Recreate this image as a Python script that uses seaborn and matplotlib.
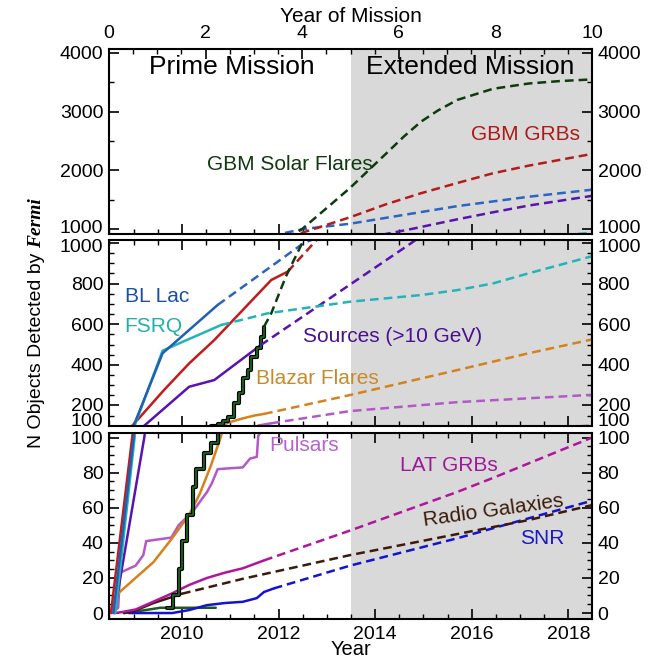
import numpy as np
import pandas as pd
import matplotlib
matplotlib.use("Agg")
import matplotlib.pyplot as plt
import matplotlib.transforms as mtrans
from matplotlib.ticker import MultipleLocator, FixedLocator
import seaborn as sns

# ---------------- data ----------------
mission_start = 2008.49
mission_end = 2018.49
extended_start = 2013.49

year_ticks = [2010, 2012, 2014, 2016, 2018]
mission_ticks = [0, 2, 4, 6, 8, 10]
top_yticks = [1000, 2000, 3000, 4000]
mid_yticks = [100, 200, 400, 600, 800, 1000]
bot_yticks = [0, 20, 40, 60, 80, 100]

# GBM Solar Flares
flare_step_x = [2009.70, 2009.82, 2009.93, 2010.00, 2010.11, 2010.23, 2010.30, 2010.45,
                2010.60, 2010.74, 2010.85, 2010.96, 2011.07, 2011.18, 2011.26, 2011.37,
                2011.44, 2011.55, 2011.63, 2011.70]
flare_step_y = [3, 10, 25, 41, 56, 72, 82, 91, 97, 110, 125, 144, 210, 260, 333, 374,
                440, 481, 538, 588]
flare_proj_x = [2011.70, 2011.85, 2012.15, 2012.49, 2012.73, 2013.10, 2013.48, 2013.85,
                2014.22, 2014.60, 2014.95, 2015.30, 2015.70, 2016.44, 2017.18, 2017.80, 2018.49]
flare_proj_y = [588, 654, 834, 1000, 1170, 1430, 1700, 1990, 2280, 2580, 2830, 3020,
                3200, 3390, 3480, 3520, 3550]

# small dark-green series near zero
lowgreen_x = [2008.80, 2009.20, 2009.55, 2010.70]
lowgreen_y = [0, 1.5, 3, 3]

# GBM GRBs
gbm_grb_x = [2008.53, 2008.97, 2009.04, 2009.63, 2010.15, 2010.67, 2011.26, 2011.85, 2012.19]
gbm_grb_y = [0, 100, 118, 276, 407, 522, 670, 818, 859]
gbm_grb_proj_x = [2012.19, 2012.73, 2013.48, 2014.22, 2014.95, 2015.70, 2016.44, 2017.18, 2018.49]
gbm_grb_proj_y = [859, 1000, 1200, 1420, 1610, 1784, 1950, 2080, 2280]

# BL Lac
bllac_x = [2008.58, 2009.00, 2009.60, 2010.74]
bllac_y = [0, 100, 457, 695]
bllac_proj_x = [2010.74, 2012.52, 2013.48, 2014.22, 2014.96, 2015.70, 2016.44, 2017.18, 2018.49]
bllac_proj_y = [695, 1000, 1090, 1190, 1290, 1390, 1470, 1550, 1670]

# FSRQ
fsrq_x = [2008.62, 2009.02, 2009.60, 2010.81]
fsrq_y = [0, 100, 470, 596]
fsrq_proj_x = [2010.81, 2011.78, 2012.74, 2013.48, 2014.96, 2015.70, 2016.44, 2017.18, 2018.49]
fsrq_proj_y = [596, 654, 686, 711, 744, 768, 801, 851, 935]

# Sources (>10 GeV)
src_x = [2008.60, 2009.22, 2010.15, 2010.67, 2011.63]
src_y = [0, 100, 292, 325, 497]
src_proj_x = [2011.63, 2014.75, 2015.70, 2016.44, 2017.18, 2018.49]
src_proj_y = [497, 1000, 1165, 1285, 1400, 1565]

# Blazar Flares
blazar_x = [2008.55, 2008.63, 2009.04, 2009.41, 2009.78, 2010.15, 2010.37, 2010.60,
            2010.80, 2011.00, 2011.26, 2011.50, 2011.70]
blazar_y = [0, 10, 20, 29, 42, 56, 68, 84, 100, 118, 136, 150, 158]
blazar_proj_x = [2011.70, 2013.48, 2015.70, 2017.18, 2018.49]
blazar_proj_y = [158, 251, 374, 457, 525]

# Pulsars
psr_x = [2008.55, 2008.68, 2008.72, 2009.04, 2009.20, 2009.26, 2009.78, 2009.93, 2010.23,
         2010.52, 2010.62, 2010.74, 2011.26, 2011.41, 2011.55, 2011.58, 2011.85]
psr_y = [0, 3, 23, 27, 33, 41, 43, 50, 58, 69, 74, 82, 83, 88, 89, 101, 112]
psr_proj_x = [2011.85, 2013.48, 2015.70, 2018.49]
psr_proj_y = [112, 172, 216, 252]

# LAT GRBs
latgrb_x = [2008.60, 2008.75, 2009.04, 2009.41, 2009.78, 2010.15, 2010.52, 2010.89, 2011.26, 2011.70]
latgrb_y = [0, 0.5, 2, 6.5, 11, 16, 20, 23, 25.5, 30]
latgrb_proj_x = [2011.70, 2013.48, 2015.70, 2016.44, 2018.49]
latgrb_proj_y = [30, 47, 69, 77, 100]

# Radio Galaxies
radio_x = [2008.80, 2009.00, 2009.41, 2009.78, 2010.00]
radio_y = [0, 1, 5.7, 9, 11]
radio_proj_x = [2010.00, 2011.26, 2013.48, 2015.70, 2017.18, 2018.49]
radio_proj_y = [11, 19.5, 33, 45, 53, 61.5]

# SNR
snr_x = [2008.90, 2009.80, 2010.15, 2010.52, 2010.89, 2011.26, 2011.55, 2011.70, 2011.90]
snr_y = [0, 0, 1.7, 4.5, 5.7, 6.4, 8.5, 12, 14]
snr_proj_x = [2011.90, 2013.48, 2015.70, 2017.18, 2018.49]
snr_proj_y = [14, 27, 42.6, 54, 64]

# ---------------- style ----------------
sns.set_theme(style="ticks", rc={
    "text.color": "black", "axes.labelcolor": "black", "axes.edgecolor": "black",
    "xtick.color": "black", "ytick.color": "black",
})
plt.rcParams["font.family"] = ["Liberation Sans", "DejaVu Sans"]

C_FLARE = "#0e3a0e"
C_GRB = "#c41a1a"
C_BLL = "#1f5fb4"
C_FSRQ = "#22b4b8"
C_SRC = "#5a12b0"
C_BLZ = "#d4821c"
C_PSR = "#b458c8"
C_LGRB = "#b0169c"
C_RAD = "#3c1a0c"
C_SNR = "#1414d0"

LW = 1.8
DASH = (0, (3.5, 2.0))

fig = plt.figure(figsize=(6.62, 6.63), dpi=100)
L, W = 109 / 662, 483 / 662
ax_top = fig.add_axes([L, 1 - 234 / 663, W, 185 / 663])
ax_mid = fig.add_axes([L, 1 - 426 / 663, W, 186 / 663])
ax_bot = fig.add_axes([L, 1 - 619 / 663, W, 186 / 663])
axes = [ax_top, ax_mid, ax_bot]


def draw(ax, x, y, color, ls="-", lw=LW, **kw):
    df = pd.DataFrame({"x": x, "y": y})
    sns.lineplot(data=df, x="x", y="y", ax=ax, color=color, linewidth=lw,
                 linestyle=ls, estimator=None, sort=False, legend=False, **kw)


for ax in axes:
    ax.axvspan(extended_start, mission_end, color="#d9d9d9", lw=0, zorder=0)
    # measured (solid)
    draw(ax, lowgreen_x, lowgreen_y, "#1d5a1d")
    draw(ax, snr_x, snr_y, C_SNR)
    draw(ax, radio_x, radio_y, C_RAD)
    draw(ax, latgrb_x, latgrb_y, C_LGRB)
    draw(ax, psr_x, psr_y, C_PSR)
    draw(ax, blazar_x, blazar_y, C_BLZ)
    draw(ax, src_x, src_y, C_SRC)
    draw(ax, gbm_grb_x, gbm_grb_y, C_GRB)
    draw(ax, fsrq_x, fsrq_y, C_FSRQ)
    draw(ax, bllac_x, bllac_y, C_BLL)
    draw(ax, flare_step_x, flare_step_y, "black", lw=3.0, drawstyle="steps-post")
    draw(ax, flare_step_x, flare_step_y, "#1d6a1d", lw=1.2, drawstyle="steps-post")
    # projections (dashed)
    draw(ax, snr_proj_x, snr_proj_y, C_SNR, ls=DASH)
    draw(ax, radio_proj_x, radio_proj_y, C_RAD, ls=DASH)
    draw(ax, latgrb_proj_x, latgrb_proj_y, C_LGRB, ls=DASH)
    draw(ax, psr_proj_x, psr_proj_y, C_PSR, ls=DASH)
    draw(ax, blazar_proj_x, blazar_proj_y, C_BLZ, ls=DASH)
    draw(ax, src_proj_x, src_proj_y, C_SRC, ls=DASH)
    draw(ax, fsrq_proj_x, fsrq_proj_y, C_FSRQ, ls=DASH)
    draw(ax, bllac_proj_x, bllac_proj_y, "#2a64c4", ls=DASH)
    draw(ax, gbm_grb_proj_x, gbm_grb_proj_y, "#b41c1c", ls=DASH)
    draw(ax, flare_proj_x, flare_proj_y, C_FLARE, ls=DASH)

    ax.set_xlim(mission_start, mission_end)
    ax.set_xlabel("")
    ax.set_ylabel("")
    ax.xaxis.set_major_locator(FixedLocator(year_ticks))
    ax.xaxis.set_minor_locator(MultipleLocator(0.5))
    ax.tick_params(which="both", direction="in", top=True, bottom=True, left=True, right=True,
                   labelleft=True, labelright=True, labelbottom=False, labeltop=False,
                   labelsize=14, pad=4)
    ax.tick_params(which="major", length=7, width=1.2)
    ax.tick_params(which="minor", length=3.5, width=1.0)
    for s in ax.spines.values():
        s.set_visible(True)
        s.set_linewidth(1.5)
        s.set_color("black")

ax_top.set_ylim(915, 4068)
ax_top.yaxis.set_major_locator(FixedLocator(top_yticks))
ax_top.yaxis.set_minor_locator(MultipleLocator(500))
ax_mid.set_ylim(98.5, 1015)
ax_mid.yaxis.set_major_locator(FixedLocator(mid_yticks))
ax_mid.yaxis.set_minor_locator(MultipleLocator(50))
ax_bot.set_ylim(-3.4, 102.6)
ax_bot.yaxis.set_major_locator(FixedLocator(bot_yticks))
ax_bot.yaxis.set_minor_locator(MultipleLocator(5))

ax_bot.tick_params(axis="x", labelbottom=True, pad=5)
ax_bot.set_xticks(year_ticks)
ax_bot.set_xticklabels([str(t) for t in year_ticks])
ax_bot.set_xlabel("Year", fontsize=14.5, labelpad=-2)

# top axis: year of mission
ax_m = ax_top.twiny()
ax_m.set_xlim(0, 10)
ax_m.set_xticks(mission_ticks)
ax_m.set_xticklabels([str(t) for t in mission_ticks])
ax_m.xaxis.set_minor_locator(MultipleLocator(0.5))
ax_m.tick_params(axis="x", which="both", direction="in", top=True, bottom=False,
                 labeltop=True, labelbottom=False, labelsize=14, pad=5)
ax_m.tick_params(axis="x", which="major", length=7, width=1.2)
ax_m.tick_params(axis="x", which="minor", length=3.5, width=1.0)
ax_m.set_xlabel("Year of Mission", fontsize=15, labelpad=2)
ax_top.tick_params(axis="x", which="both", top=False, bottom=True)

# nudge crowded tick labels at the panel joins
fig.canvas.draw()


def nudge(ax, val, dy_px):
    off = mtrans.ScaledTranslation(0, dy_px / 100.0, fig.dpi_scale_trans)
    for t in ax.yaxis.get_major_ticks():
        if abs(t.get_loc() - val) < 1e-6:
            for lab in (t.label1, t.label2):
                lab.set_transform(lab.get_transform() + off)


nudge(ax_top, 1000, 3)
nudge(ax_mid, 1000, -2)
nudge(ax_mid, 100, 6)
nudge(ax_mid, 200, 1)

# panel texts
ax_top.text(2011.04, 3762, "Prime Mission", fontsize=19, ha="center", va="center")
ax_top.text(2015.96, 3762, "Extended Mission", fontsize=19, ha="center", va="center")
ax_top.text(2012.24, 2091, "GBM Solar Flares", fontsize=15, ha="center", va="center", color="#103a10")
ax_top.text(2017.12, 2603, "GBM GRBs", fontsize=15, ha="center", va="center", color="#b01818")

ax_mid.text(2009.48, 735, "BL Lac", fontsize=15, ha="center", va="center", color="#1a50a0")
ax_mid.text(2009.41, 588, "FSRQ", fontsize=15, ha="center", va="center", color="#20b0a8")
ax_mid.text(2014.37, 538, "Sources (>10 GeV)", fontsize=15, ha="center", va="center", color="#4a1090")
ax_mid.text(2012.80, 333, "Blazar Flares", fontsize=15, ha="center", va="center", color="#c88a2a")

ax_bot.text(2012.53, 95.5, "Pulsars", fontsize=15, ha="center", va="center", color="#b565c8")
ax_bot.text(2015.53, 84, "LAT GRBs", fontsize=15, ha="center", va="center", color="#a0189a")
ax_bot.text(2016.44, 58.5, "Radio Galaxies", fontsize=15, ha="center", va="center",
            color="#3a1a0a", rotation=8, rotation_mode="anchor")
ax_bot.text(2017.45, 42.6, "SNR", fontsize=15, ha="center", va="center", color="#1a1ac0")

# y label with bold-italic "Fermi"
fig.canvas.draw()
r = fig.canvas.get_renderer()
ylab_fs = 14
x_base = 41 / 662
t_probe1 = fig.text(0, 0, "N Objects Detected by", fontsize=ylab_fs)
t_probe2 = fig.text(0, 0, "Fermi", fontsize=ylab_fs, family="Liberation Serif",
                    style="italic", weight="bold")
w1 = t_probe1.get_window_extent(renderer=r).width
w2 = t_probe2.get_window_extent(renderer=r).width
t_probe1.remove()
t_probe2.remove()
gap = 5.0
total = w1 + gap + w2
center_px = 663 - 323
y0 = (center_px - total / 2) / 663
fig.text(x_base, y0, "N Objects Detected by", fontsize=ylab_fs, rotation=90,
         rotation_mode="anchor", ha="left", va="baseline")
fig.text(x_base, y0 + (w1 + gap) / 663, "Fermi", fontsize=ylab_fs, rotation=90,
         rotation_mode="anchor", ha="left", va="baseline", family="Liberation Serif",
         style="italic", weight="bold")

fig.savefig("out.png", dpi=100)
